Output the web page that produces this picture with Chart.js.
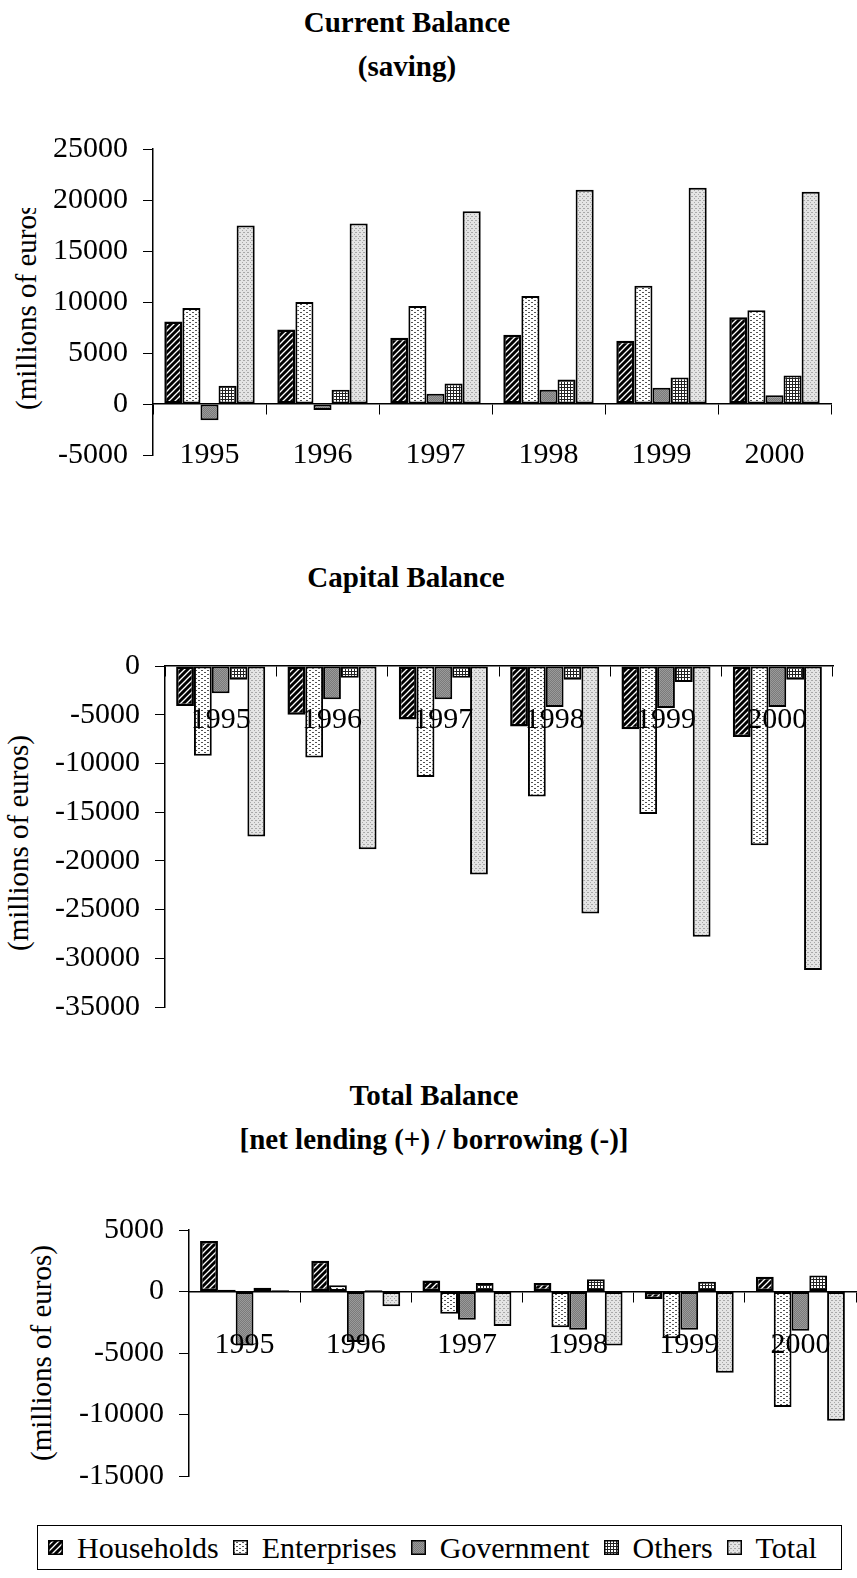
<!DOCTYPE html>
<html>
<head>
<meta charset="utf-8">
<script src="https://cdn.jsdelivr.net/npm/chart.js@4.4.1/dist/chart.umd.min.js"></script>
<style>
  html,body{ margin:0; padding:0; background:#fff; width:857px; height:1578px; overflow:hidden; }
  body{ position:relative; font-family:"Liberation Serif","Times New Roman",serif; color:#000; }
  .cv{ position:absolute; left:0; width:857px; }
  .ttl{ position:absolute; left:0; text-align:center; font-weight:bold; font-size:29px; line-height:44px; white-space:nowrap; }
  .ylab{ position:absolute; font-size:29px; white-space:nowrap; transform:translate(-50%,-50%) rotate(-90deg); }
  .clip{ position:absolute; left:0; overflow:hidden; width:60px; }
  #legend{ position:absolute; left:37px; top:1525px; width:805px; height:45px; border:1px solid #000;
           display:flex; align-items:center; font-size:30px; box-sizing:border-box; padding-left:10px; }
  #legend canvas{ width:15px; height:15px; margin-right:14px; }
  #legend span{ margin-right:14px; }
</style>
</head>
<body>

<div class="ttl" style="top:0;width:814px;">Current Balance<br>(saving)</div>
<div class="clip" style="top:208px;height:260px;">
  <div class="ylab" style="left:26px;top:94px;">(millions of euros)</div>
</div>
<canvas id="c1" class="cv" style="top:0;height:500px;" width="857" height="500"></canvas>

<div class="ttl" style="top:555px;width:812px;">Capital Balance</div>
<div class="ylab" style="left:18px;top:843px;">(millions of euros)</div>
<canvas id="c2" class="cv" style="top:560px;height:480px;" width="857" height="480"></canvas>

<div class="ttl" style="top:1073px;width:868px;">Total Balance<br>[net lending (+) / borrowing (-)]</div>
<div class="ylab" style="left:41px;top:1353px;">(millions of euros)</div>
<canvas id="c3" class="cv" style="top:1060px;height:450px;" width="857" height="450"></canvas>

<div id="legend"></div>

<script>
const years = ["1995","1996","1997","1998","1999","2000"];
const seriesNames = ["Households","Enterprises","Government","Others","Total"];

// Current balance (saving)
const curHouseholds = [8100, 7300, 6500, 6800, 6200, 8500];
const curEnterprises = [9400, 10000, 9600, 10600, 11600, 9200];
const curGovernment = [-1600, -600, 1000, 1400, 1600, 850];
const curOthers = [1800, 1400, 2000, 2400, 2600, 2800];
const curTotal = [17500, 17700, 18900, 21000, 21200, 20800];

// Capital balance
const capHouseholds = [-4100, -5000, -5500, -6200, -6500, -7300];
const capEnterprises = [-9200, -9400, -11400, -13400, -15200, -18400];
const capGovernment = [-2800, -3400, -3400, -4200, -4300, -4200];
const capOthers = [-1400, -1200, -1200, -1400, -1650, -1400];
const capTotal = [-17500, -18800, -21400, -25400, -27800, -31200];

// Total balance (net lending / borrowing)
const totHouseholds = [4100, 2500, 900, 700, -600, 1200];
const totEnterprises = [150, 500, -1800, -2900, -3800, -9400];
const totGovernment = [-4400, -4100, -2300, -3100, -3100, -3200];
const totOthers = [300, 100, 700, 1000, 800, 1300];
const totTotal = [100, -1200, -2800, -4400, -6600, -10500];

// ===== fill patterns =====
function makePattern(kind){
  const c = document.createElement("canvas");
  const g = c.getContext("2d");
  if(kind==="hh"){
    c.width = c.height = 6;
    g.fillStyle="#000"; g.fillRect(0,0,6,6);
    g.strokeStyle="#fff"; g.lineWidth=1.3;
    g.beginPath(); g.moveTo(0,6); g.lineTo(6,0); g.moveTo(-1,1); g.lineTo(1,-1); g.moveTo(5,7); g.lineTo(7,5); g.stroke();
  } else if(kind==="ent"){
    c.width = 6; c.height = 4;
    g.fillStyle="#fff"; g.fillRect(0,0,6,4);
    g.fillStyle="#555"; g.fillRect(0,0,2,1); g.fillRect(3,2,2,1);
  } else if(kind==="gov"){
    c.width = c.height = 2;
    g.fillStyle="#7a7a7a"; g.fillRect(0,0,2,2);
    g.fillStyle="#9a9a9a"; g.fillRect(0,0,1,1); g.fillRect(1,1,1,1);
  } else if(kind==="oth"){
    c.width = c.height = 3;
    g.fillStyle="#fff"; g.fillRect(0,0,3,3);
    g.fillStyle="#222"; g.fillRect(0,0,3,1); g.fillRect(0,0,1,3);
  } else {
    c.width = c.height = 4;
    g.fillStyle="#e4e4e4"; g.fillRect(0,0,4,4);
    g.fillStyle="#a8a8a8"; g.fillRect(0,0,1,1); g.fillRect(2,2,1,1); g.fillRect(3,0,1,1);
  }
  return g.createPattern(c,"repeat");
}
const fills = ["hh","ent","gov","oth","tot"].map(makePattern);

const FONT = "'Liberation Serif','Times New Roman',serif";

function datasetsFrom(lists){
  return lists.map((vals,i)=>({
    label: seriesNames[i],
    data: vals,
    backgroundColor: fills[i],
    borderColor: "#000",
    borderWidth: i===0 ? 2.5 : 2,
    borderSkipped: false,
    categoryPercentage: 0.8,
    barPercentage: 1
  }));
}

function buildChart(id, lists, yMin, yMax, pad, yWidth, labelPad){
  return new Chart(document.getElementById(id), {
    type: "bar",
    data: { labels: years, datasets: datasetsFrom(lists) },
    options: {
      responsive: false,
      animation: false,
      devicePixelRatio: 1,
      layout: { padding: pad },
      plugins: { legend: { display:false }, tooltip: { enabled:false } },
      scales: {
        x: {
          position: { y: 0 },
          // year labels and axis line sit on top of the bars, like the original
          grid: { drawOnChartArea:false, color:"#000", tickLength:10, offset:true, lineWidth:1, z:1 },
          border: { color:"#000", width:1.5, z:1 },
          ticks: { color:"#000", font:{ family:FONT, size:30 }, padding:labelPad, maxRotation:0, z:1 }
        },
        y: {
          min: yMin, max: yMax,
          afterFit: s => { s.width = yWidth; },
          grid: { drawOnChartArea:false, color:"#000", tickLength:10 },
          border: { color:"#000", width:1.5 },
          ticks: { stepSize:5000, color:"#000", font:{ family:FONT, size:30 }, padding:15,
                   callback: v => String(v) }
        }
      }
    }
  });
}

buildChart("c1", [curHouseholds,curEnterprises,curGovernment,curOthers,curTotal],
  -5000, 25000, { top:149, bottom:45, left:0, right:26 }, 153, 23);
buildChart("c2", [capHouseholds,capEnterprises,capGovernment,capOthers,capTotal],
  -35000, 0, { top:106, bottom:23, left:0, right:24 }, 165, 26);
buildChart("c3", [totHouseholds,totEnterprises,totGovernment,totOthers,totTotal],
  -15000, 5000, { top:170, bottom:34, left:0, right:1 }, 189, 26);

// ===== legend =====
const leg = document.getElementById("legend");
seriesNames.forEach((name,i)=>{
  const sw = document.createElement("canvas");
  sw.width = 15; sw.height = 15;
  const g = sw.getContext("2d");
  g.fillStyle = fills[i]; g.fillRect(0,0,15,15);
  g.strokeStyle = "#000"; g.lineWidth = 1.5; g.strokeRect(0.75,0.75,13.5,13.5);
  const t = document.createElement("span");
  t.textContent = name;
  leg.appendChild(sw); leg.appendChild(t);
});
</script>
</body>
</html>
